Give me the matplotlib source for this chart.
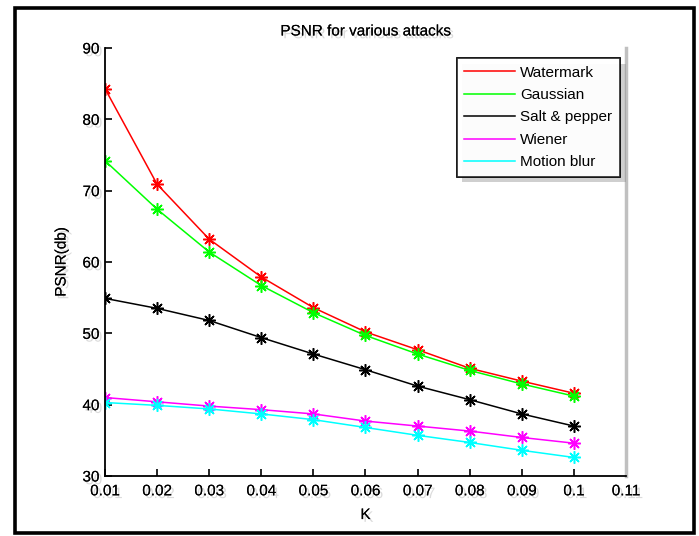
import matplotlib
matplotlib.use("Agg")
import matplotlib.pyplot as plt
from matplotlib.patches import Rectangle
import matplotlib.patheffects as pe

plt.rcParams['font.family'] = ['Liberation Sans', 'DejaVu Sans']

k_values = [0.01, 0.02, 0.03, 0.04, 0.05, 0.06, 0.07, 0.08, 0.09, 0.10]
watermark = [84.3, 70.9, 63.2, 57.9, 53.6, 50.2, 47.7, 45.1, 43.3, 41.6]
gaussian = [74.2, 67.4, 61.4, 56.7, 52.9, 49.7, 47.1, 44.8, 42.9, 41.2]
salt_pepper = [54.9, 53.5, 51.8, 49.4, 47.1, 44.9, 42.6, 40.7, 38.7, 37.0]
wiener = [41.0, 40.4, 39.8, 39.3, 38.7, 37.7, 37.0, 36.3, 35.4, 34.6]
motion_blur = [40.3, 39.9, 39.4, 38.7, 37.9, 36.8, 35.7, 34.7, 33.6, 32.6]

series_names = ["Watermark", "Gaussian", "Salt & pepper", "Wiener", "Motion blur"]
series_values = [watermark, gaussian, salt_pepper, wiener, motion_blur]
series_colors = ["#ff0000", "#00ff00", "#000000", "#ff00ff", "#00ffff"]

x_ticks = [0.01, 0.02, 0.03, 0.04, 0.05, 0.06, 0.07, 0.08, 0.09, 0.10, 0.11]
x_tick_labels = ["0.01", "0.02", "0.03", "0.04", "0.05", "0.06", "0.07", "0.08", "0.09", "0.1", "0.11"]
y_ticks = [30, 40, 50, 60, 70, 80, 90]

W, H = 699, 536
fig = plt.figure(figsize=(W / 100, H / 100), dpi=100)
fig.patch.set_facecolor("white")

shadow = [pe.withSimplePatchShadow(offset=(2, -2), shadow_rgbFace="#999999", alpha=0.35), pe.Normal()]

ax = fig.add_axes([105 / W, 1 - 476 / H, (626 - 105) / W, (476 - 48) / H])

asterisk = (8, 2, 0)
for name, vals, col in zip(series_names, series_values, series_colors):
    ax.plot(k_values, vals, color=col, lw=1.1, label=name)
    ax.plot(k_values, vals, color=col, lw=0, marker=asterisk, ms=9, mew=1.1)

ax.set_xlim(0.01, 0.11)
ax.set_ylim(30, 90)
ax.set_xticks(x_ticks)
ax.set_xticklabels(x_tick_labels)
ax.set_yticks(y_ticks)
ax.tick_params(direction="in", length=5, width=1.2, labelsize=11, top=False, right=False)
ax.tick_params(axis="x", pad=6)
ax.tick_params(axis="y", pad=4)
for lab in ax.get_xticklabels() + ax.get_yticklabels():
    lab.set_path_effects(shadow)

ax.spines["top"].set_visible(False)
ax.spines["right"].set_color("#c0c0c0")
ax.spines["right"].set_linewidth(2.5)
ax.spines["left"].set_linewidth(1.3)
ax.spines["bottom"].set_linewidth(1.3)

t = ax.set_title("PSNR for various attacks", fontsize=11, pad=9)
t.set_path_effects(shadow)
xl = ax.set_xlabel("K", fontsize=11, labelpad=7)
xl.set_path_effects(shadow)
yl = ax.set_ylabel("PSNR(db)", fontsize=11, labelpad=10)
yl.set_path_effects(shadow)

leg = ax.legend(loc="upper right", bbox_to_anchor=((620 - 105) / (626 - 105), (476 - 58) / (476 - 48)),
                borderaxespad=0, fontsize=11, frameon=True, fancybox=False, shadow=False,
                handlelength=3.3, handletextpad=0.35, borderpad=0.5, labelspacing=0.55)
leg.get_frame().set_edgecolor("black")
leg.get_frame().set_linewidth(1.2)
leg.get_frame().set_path_effects([pe.withSimplePatchShadow(offset=(4, -4), shadow_rgbFace="#888888", alpha=0.4), pe.Normal()])

# outer figure border
fig.add_artist(Rectangle((15 / W, 1 - 533 / H), (694 - 15) / W, (533 - 8) / H,
                         transform=fig.transFigure, fill=False, edgecolor="black", lw=2.6))

fig.savefig("out.png", dpi=100, facecolor="white")
